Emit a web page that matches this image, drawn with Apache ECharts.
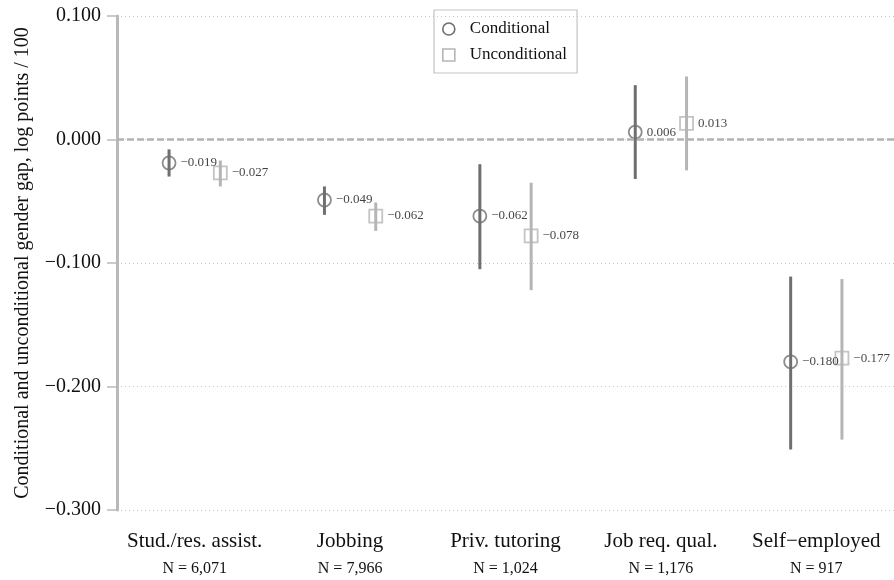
<!DOCTYPE html>
<html>
<head>
<meta charset="utf-8">
<script src="https://cdn.jsdelivr.net/npm/echarts@6/dist/echarts.min.js"></script>
<style>html,body{margin:0;padding:0;background:#fff;}#c{width:894px;height:580px;}</style>
</head>
<body>
<div id="c"></div>
<script>
const categories = ['Stud./res. assist.', 'Jobbing', 'Priv. tutoring', 'Job req. qual.', 'Self\u2212employed'];
const sampleSizes = ['N = 6,071', 'N = 7,966', 'N = 1,024', 'N = 1,176', 'N = 917'];
const condEst = [-0.019, -0.049, -0.062, 0.006, -0.180];
const condLo  = [-0.030, -0.061, -0.105, -0.032, -0.251];
const condHi  = [-0.008, -0.038, -0.020, 0.044, -0.111];
const uncondEst = [-0.027, -0.062, -0.078, 0.013, -0.177];
const uncondLo  = [-0.038, -0.074, -0.122, -0.025, -0.243];
const uncondHi  = [-0.017, -0.051, -0.035, 0.051, -0.113];
const yTicks = [-0.3, -0.2, -0.1, 0.0, 0.1];

const FONT = "'Liberation Serif', 'Times New Roman', serif";
const COND = '#6f6f6f';
const UNCOND = '#b5b5b5';
const OFF = 0.165;
const fmt = v => (v < 0 ? '\u2212' : '') + Math.abs(v).toFixed(3);

function barData(lo, hi, shift) {
  return lo.map((l, i) => [i + shift, l, hi[i]]);
}
function pointData(est, shift) {
  return est.map((v, i) => [i + shift, v]);
}
function errRender(color) {
  return function (params, api) {
    const x = api.value(0);
    const p1 = api.coord([x, api.value(1)]);
    const p2 = api.coord([x, api.value(2)]);
    return {
      type: 'line',
      shape: { x1: p1[0], y1: p1[1], x2: p2[0], y2: p2[1] },
      style: { stroke: color, lineWidth: 3 }
    };
  };
}

const chart = echarts.init(document.getElementById('c'), null, { renderer: 'canvas' });
chart.setOption({
  animation: false,
  backgroundColor: '#fff',
  textStyle: { fontFamily: FONT },
  grid: { left: 117, right: 0, top: 16, bottom: 70 },
  legend: {
    orient: 'vertical',
    left: 434, top: 10,
    padding: [9, 10, 8, 8],
    itemGap: 6,
    itemWidth: 12, itemHeight: 12,
    borderColor: '#c4c4c4', borderWidth: 1.2,
    textStyle: { fontFamily: FONT, fontSize: 17, lineHeight: 20, color: '#111', padding: [0, 0, 0, 10] },
    data: [
      { name: 'Conditional', icon: 'circle',
        itemStyle: { color: 'rgba(255,255,255,0)', borderColor: COND, borderWidth: 1.6 } },
      { name: 'Unconditional', icon: 'rect',
        itemStyle: { color: 'rgba(255,255,255,0)', borderColor: UNCOND, borderWidth: 1.6 } }
    ]
  },
  xAxis: [
    {
      type: 'category',
      data: categories,
      axisLine: { show: false },
      axisTick: { show: false },
      axisLabel: {
        margin: 18,
        formatter: (v, i) => '{a|' + v + '}\n{b|' + sampleSizes[i] + '}',
        rich: {
          a: { fontFamily: FONT, fontSize: 21, lineHeight: 26, color: '#111' },
          b: { fontFamily: FONT, fontSize: 16, lineHeight: 30, color: '#111' }
        }
      }
    },
    { type: 'value', min: -0.5, max: 4.5, show: false }
  ],
  yAxis: {
    type: 'value',
    min: -0.3, max: 0.1, interval: 0.1,
    name: 'Conditional and unconditional gender gap, log points / 100',
    nameLocation: 'middle',
    nameGap: 84,
    nameTextStyle: { fontFamily: FONT, fontSize: 20, color: '#111' },
    axisLine: { show: true, onZero: false, lineStyle: { color: '#b9b9b9', width: 3 } },
    axisTick: { show: true, length: 10, lineStyle: { color: '#b9b9b9', width: 1.5 } },
    axisLabel: {
      margin: 16,
      fontFamily: FONT, fontSize: 20, color: '#111',
      formatter: v => {
        const t = yTicks.find(k => Math.abs(k - v) < 1e-9);
        return fmt(t === undefined ? v : t);
      }
    },
    splitLine: {
      show: true,
      lineStyle: { color: '#c8c8c8', width: 1, type: [1, 3] }
    }
  },
  series: [
    {
      name: 'Conditional',
      type: 'custom',
      xAxisIndex: 1,
      renderItem: errRender(COND),
      itemStyle: { color: COND },
      data: barData(condLo, condHi, -OFF),
      z: 2,
      silent: true,
      markLine: {
        silent: true,
        symbol: 'none',
        label: { show: false },
        lineStyle: { color: '#b3b3b3', width: 2.5, type: [7, 3] },
        data: [{ yAxis: 0 }]
      }
    },
    {
      name: 'Unconditional',
      type: 'custom',
      xAxisIndex: 1,
      renderItem: errRender(UNCOND),
      itemStyle: { color: UNCOND },
      data: barData(uncondLo, uncondHi, OFF),
      z: 2,
      silent: true
    },
    {
      name: 'Conditional',
      type: 'scatter',
      xAxisIndex: 1,
      symbol: 'circle',
      symbolSize: 13,
      itemStyle: { color: 'rgba(255,255,255,0)', borderColor: COND, borderWidth: 1.8 },
      label: {
        show: true, position: 'right', distance: 4,
        fontFamily: FONT, fontSize: 13, color: '#111',
        formatter: p => fmt(p.value[1])
      },
      data: pointData(condEst, -OFF),
      z: 3
    },
    {
      name: 'Unconditional',
      type: 'scatter',
      xAxisIndex: 1,
      symbol: 'rect',
      symbolSize: 13,
      itemStyle: { color: 'rgba(255,255,255,0)', borderColor: UNCOND, borderWidth: 1.8 },
      label: {
        show: true, position: 'right', distance: 4,
        fontFamily: FONT, fontSize: 13, color: '#111',
        formatter: p => fmt(p.value[1])
      },
      data: pointData(uncondEst, OFF),
      z: 3
    }
  ]
});
</script>
</body>
</html>
